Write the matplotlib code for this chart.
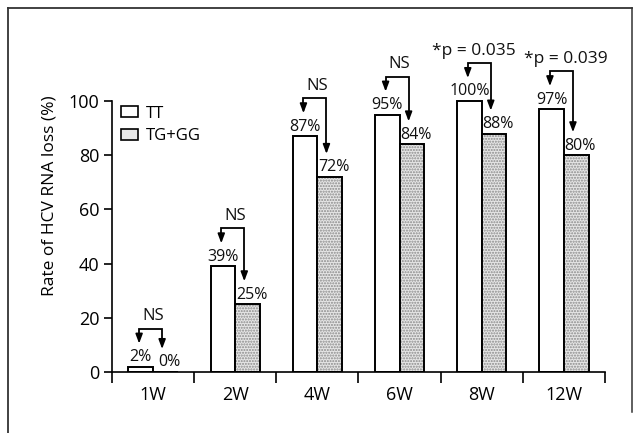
import matplotlib
matplotlib.use("Agg")
import matplotlib.pyplot as plt
from matplotlib.lines import Line2D
from matplotlib.patches import Rectangle
import numpy as np

plt.rcParams['font.family'] = ['Open Sans', 'DejaVu Sans']

weeks = ["1W", "2W", "4W", "6W", "8W", "12W"]
tt_values = [2, 39, 87, 95, 100, 97]
tg_values = [0, 25, 72, 84, 88, 80]
sig_labels = ["NS", "NS", "NS", "NS", "*p = 0.035", "*p = 0.039"]
series_names = ["TT", "TG+GG"]
yticks = [0, 20, 40, 60, 80, 100]

# layout tweaks (not data)
sig_dx = [0, 0, 0, 0, -0.10, 0.02]

W, H = 636, 433
fig = plt.figure(figsize=(W / 100, H / 100), dpi=100)
fig.patch.set_facecolor("white")

left, right = 112, 605
y0, y100 = 372, 101
ymax = 130
top = y0 - (y0 - y100) * ymax / 100
ax = fig.add_axes([left / W, (H - y0) / H, (right - left) / W, (y0 - top) / H])
ax.set_xlim(-0.5, 5.5)
ax.set_ylim(0, ymax)

x = np.arange(len(weeks))
bw = 0.30
# TT bars: white
ax.bar(x - bw / 2, tt_values, width=bw, facecolor="white", edgecolor="black", linewidth=1.4, zorder=2)
# TG+GG bars: stippled gray
ax.bar(x + bw / 2, tg_values, width=bw, facecolor="#e6e6e6", edgecolor="#8a8a8a", hatch="......",
       linewidth=0, zorder=2)
ax.bar(x + bw / 2, tg_values, width=bw, facecolor="none", edgecolor="black", linewidth=1.4, zorder=3)

lab_fs = 11.5
for i in range(len(weeks)):
    ax.text(x[i] - bw / 2, tt_values[i] + 0.6, f"{tt_values[i]}%", ha="center", va="bottom",
            fontsize=lab_fs, color="#111111")
    ax.text(x[i] + bw / 2 + 0.05, tg_values[i] + 0.6, f"{tg_values[i]}%", ha="center", va="bottom",
            fontsize=lab_fs, color="#111111")
    xl = x[i] - 0.17
    xr = x[i] + 0.11
    h = tt_values[i] + 14
    tipl = tt_values[i] + 8.5
    tipr = tg_values[i] + 8.5
    ax.plot([xl, xl, xr, xr], [tipl + 2, h, h, tipr + 2], color="black", lw=1.3,
            solid_joinstyle="miter", zorder=4)
    for xx, tp in ((xl, tipl), (xr, tipr)):
        ax.annotate("", xy=(xx, tp), xytext=(xx, tp + 3),
                    arrowprops=dict(arrowstyle="-|>,head_width=0.3,head_length=0.8", color="black",
                                    lw=1.2, mutation_scale=7, shrinkA=0, shrinkB=0), zorder=4)
    ax.text(x[i] + sig_dx[i], h + 1.6, sig_labels[i], ha="center", va="bottom",
            fontsize=12.5 if sig_labels[i] != "NS" else 12, color="#111111")

# axes styling
for s in ("top", "right"):
    ax.spines[s].set_visible(False)
ax.spines["left"].set_bounds(0, 100)
ax.spines["left"].set_linewidth(1.2)
ax.spines["bottom"].set_linewidth(1.2)
ax.set_yticks(yticks)
ax.set_yticklabels([str(v) for v in yticks])
ax.tick_params(axis="y", direction="out", length=6, width=1.2, labelsize=13, pad=3)
ax.set_xticks(x)
ax.set_xticklabels(weeks)
ax.set_xticks(np.arange(-0.5, 6.0, 1.0), minor=True)
ax.tick_params(axis="x", which="major", length=0, labelsize=13, pad=10)
ax.tick_params(axis="x", which="minor", direction="out", length=8, width=1.2)
ax.set_ylabel("Rate of HCV RNA loss (%)", fontsize=12.5, labelpad=8)

# legend
handles = [Rectangle((0, 0), 1, 1, facecolor="white", edgecolor="black", lw=1.2),
           Rectangle((0, 0), 1, 1, facecolor="#e6e6e6", edgecolor="black", lw=1.2)]
ax.legend(handles, series_names, loc="upper left", bbox_to_anchor=(0.005, 0.775), frameon=False,
          fontsize=12, handlelength=1.0, handleheight=0.6, handletextpad=0.5, labelspacing=0.4,
          borderaxespad=0)

# outer frame (scan border)
fx = lambda px: px / W
fy = lambda py: 1 - py / H
fig.add_artist(Line2D([fx(8), fx(632)], [fy(8), fy(8)], color="#333333", lw=1.3))
fig.add_artist(Line2D([fx(8), fx(8)], [fy(8), fy(433)], color="#333333", lw=1.3))
fig.add_artist(Line2D([fx(632), fx(632)], [fy(8), fy(412)], color="#333333", lw=1.1))

fig.savefig("out.png", dpi=100)
